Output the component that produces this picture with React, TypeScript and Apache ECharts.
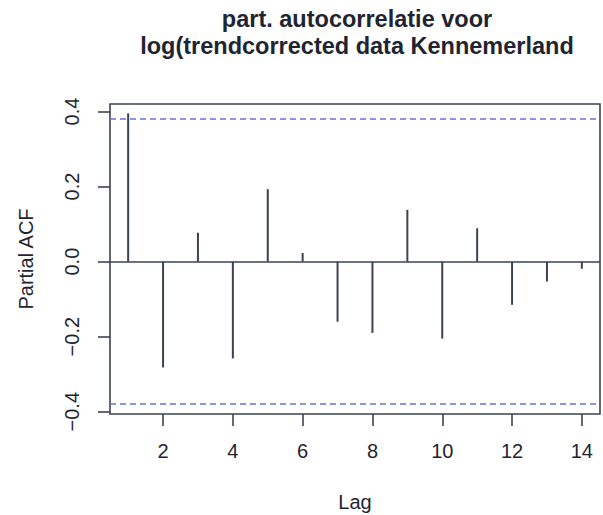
import React, { useEffect, useRef } from "react";
import * as echarts from "echarts";

const lags = [1, 2, 3, 4, 5, 6, 7, 8, 9, 10, 11, 12, 13, 14];
const pacf = [0.395, -0.282, 0.077, -0.258, 0.193, 0.023, -0.16, -0.19, 0.138, -0.205, 0.089, -0.115, -0.053, -0.019];
const xTicks = [2, 4, 6, 8, 10, 12, 14];
const yTicks = [-0.4, -0.2, 0.0, 0.2, 0.4];
const ciLimit = 0.377;
const titleLines = ["part. autocorrelatie voor", "log(trendcorrected data Kennemerland"];

const ink = "#3b4352";
const textInk = "#1f2530";
const font = "'Liberation Sans', Arial, Helvetica, sans-serif";

export default function App() {
  const ref = useRef<HTMLDivElement>(null);
  useEffect(() => {
    document.body.style.margin = "0";
    const chart = echarts.init(ref.current!, null, { renderer: "svg" });
    const data = lags.map((l, i) => [l, pacf[i]]);
    chart.setOption({
      animation: false,
      backgroundColor: "#ffffff",
      title: {
        text: titleLines.join("\n"),
        left: 357,
        top: 5,
        padding: 0,
        textAlign: "center",
        textStyle: {
          fontFamily: font,
          fontWeight: "bold",
          fontSize: 23.5,
          lineHeight: 27,
          color: textInk,
        },
      },
      grid: {
        left: 110,
        top: 104,
        right: 3,
        bottom: 101,
        outerBoundsMode: "none",
        containLabel: false,
        show: true,
        borderColor: ink,
        borderWidth: 1.6,
        backgroundColor: "transparent",
      },
      xAxis: {
        type: "value",
        min: 0.48,
        max: 14.52,
        name: "Lag",
        nameLocation: "middle",
        nameGap: 78,
        nameTextStyle: { fontFamily: font, fontSize: 20, color: textInk },
        axisLine: { show: false, onZero: false },
        splitLine: { show: false },
        axisTick: {
          show: true,
          customValues: xTicks,
          length: 12,
          lineStyle: { color: ink, width: 1.6 },
        },
        axisLabel: {
          customValues: xTicks,
          margin: 27,
          fontFamily: font,
          fontSize: 20,
          color: textInk,
        },
      },
      yAxis: {
        type: "value",
        min: -0.406,
        max: 0.42,
        name: "Partial ACF",
        nameLocation: "middle",
        nameGap: 74,
        nameTextStyle: { fontFamily: font, fontSize: 20, color: textInk },
        axisLine: { show: false, onZero: false },
        splitLine: { show: false },
        axisTick: {
          show: true,
          customValues: yTicks,
          length: 12,
          lineStyle: { color: ink, width: 1.6 },
        },
        axisLabel: {
          customValues: yTicks,
          rotate: 90,
          margin: 28,
          fontFamily: font,
          fontSize: 20,
          color: textInk,
          formatter: (v: number) => v.toFixed(1).replace("-", "\u2212"),
        },
      },
      series: [
        {
          type: "custom",
          data,
          renderItem: (params: any, api: any) => {
            const x = api.value(0);
            const y = api.value(1);
            const p0 = api.coord([x, 0]);
            const p1 = api.coord([x, y]);
            return {
              type: "line",
              shape: { x1: p0[0], y1: p0[1], x2: p1[0], y2: p1[1] },
              style: { stroke: ink, lineWidth: 2 },
            };
          },
          markLine: {
            silent: true,
            symbol: "none",
            label: { show: false },
            data: [
              { yAxis: 0, lineStyle: { color: ink, width: 1.6, type: "solid" } },
              { yAxis: ciLimit, lineStyle: { color: "#6b70d6", width: 1.6, type: [6, 4] } },
              { yAxis: -ciLimit, lineStyle: { color: "#6b70d6", width: 1.6, type: [6, 4] } },
            ],
          },
        },
      ],
    });
    return () => chart.dispose();
  }, []);
  return <div ref={ref} style={{ width: 603, height: 515 }} />;
}
